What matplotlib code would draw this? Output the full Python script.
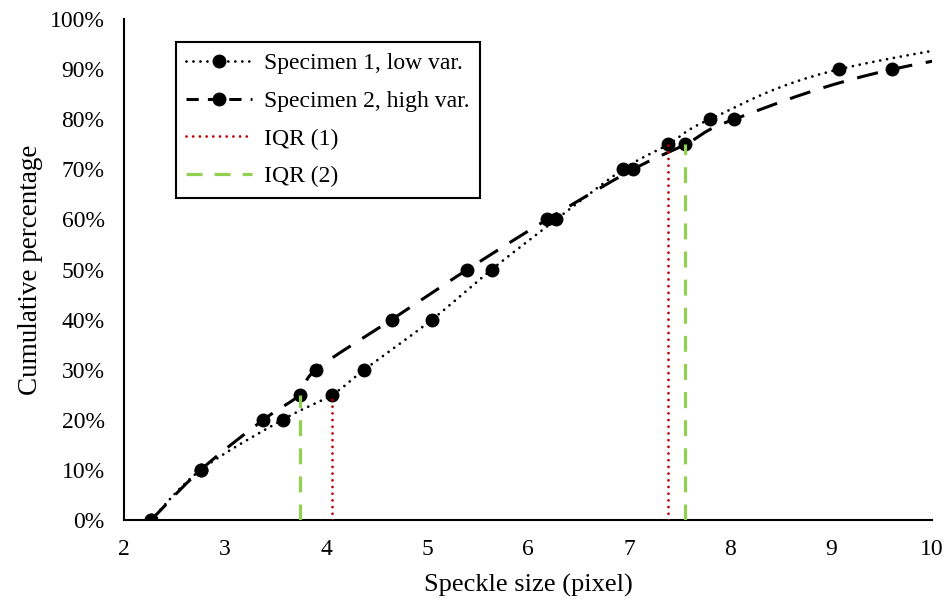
import numpy as np
import matplotlib
matplotlib.use("Agg")
from matplotlib import pyplot as plt
from matplotlib.ticker import PercentFormatter

# cumulative percentage levels
pct = [0, 10, 20, 25, 30, 40, 50, 60, 70, 75, 80, 90, 100]
# speckle size at each level (100% lies past the x limit)
spec1 = [2.27, 2.76, 3.57, 4.06, 4.38, 5.05, 5.64, 6.28, 6.94, 7.39, 7.80, 9.08, 11.9]
spec2 = [2.27, 2.76, 3.38, 3.74, 3.90, 4.65, 5.40, 6.19, 7.04, 7.56, 8.04, 9.61, 12.5]

# quartile positions
iqr1 = [4.06, 7.39]
iqr1_pct = [25, 75]
iqr2 = [3.74, 7.56]
iqr2_pct = [25, 75]

plt.rcParams['font.family'] = ['Liberation Serif', 'DejaVu Serif']


def smooth(x, y, n=30):
    # excel-like smoothed line (catmull-rom as bezier)
    p = np.column_stack([x, y]).astype(float)
    pts = [p[0]] + list(p) + [p[-1]]
    out = []
    for i in range(1, len(pts) - 2):
        p0, p1, p2, p3 = pts[i - 1], pts[i], pts[i + 1], pts[i + 2]
        c1 = p1 + (p2 - p0) / 6
        c2 = p2 - (p3 - p1) / 6
        t = np.linspace(0, 1, n)[:, None]
        seg = ((1 - t) ** 3) * p1 + 3 * ((1 - t) ** 2) * t * c1 + 3 * (1 - t) * t ** 2 * c2 + t ** 3 * p2
        out.append(seg)
    out = np.vstack(out)
    return out[:, 0], out[:, 1]


fig = plt.figure(figsize=(9.47, 6.01), dpi=100)
ax = fig.add_axes([0.131, 0.135, 0.853, 0.833])

sx, sy = smooth(spec1, pct)
ax.plot(sx, sy, color='black', lw=2.0, linestyle=(0, (0.01, 2.5)), dash_capstyle='round')
ax.plot(spec1, pct, 'o', color='black', ms=9, zorder=3)

sx, sy = smooth(spec2, pct)
ax.plot(sx, sy, color='black', lw=2.2, linestyle=(0, (7, 4.5)))
ax.plot(spec2, pct, 'o', color='black', ms=9, zorder=3)

for xv, yv in zip(iqr1, iqr1_pct):
    ax.plot([xv, xv], [0, yv], color='#C00000', lw=2, linestyle=(0, (0.01, 2.4)),
            dash_capstyle='round', zorder=4)
for xv, yv in zip(iqr2, iqr2_pct):
    ax.plot([xv, xv], [0, yv], color='#92D050', lw=2.3, linestyle=(0, (5, 3.8)), zorder=4)

# legend handles
h1, = ax.plot([], [], color='black', lw=2.0, linestyle=(0, (0.01, 2.5)), dash_capstyle='round',
              marker='o', ms=9)
h2, = ax.plot([], [], color='black', lw=2.2, linestyle=(0, (4, 3)), marker='o', ms=9)
h3, = ax.plot([], [], color='#C00000', lw=2, linestyle=(0, (0.01, 2.4)), dash_capstyle='round')
h4, = ax.plot([], [], color='#92D050', lw=2.3, linestyle=(0, (5, 3.8)))
leg = ax.legend([h1, h2, h3, h4],
                ['Specimen 1, low var.', 'Specimen 2, high var.', 'IQR (1)', 'IQR (2)'],
                loc='upper left', bbox_to_anchor=(0.064, 0.954), borderaxespad=0,
                fontsize=17, handlelength=2.8, handletextpad=0.5, labelspacing=0.68,
                fancybox=False, framealpha=1, edgecolor='black', borderpad=0.45)
leg.get_frame().set_linewidth(1.5)

ax.set_xlim(2, 10)
ax.set_ylim(0, 100)
ax.set_xticks(range(2, 11))
ax.set_yticks(range(0, 101, 10))
ax.yaxis.set_major_formatter(PercentFormatter(decimals=0))
ax.tick_params(length=0, labelsize=17, pad=14)
ax.tick_params(axis='y', pad=14)
for s in ['top', 'right']:
    ax.spines[s].set_visible(False)
for s in ['left', 'bottom']:
    ax.spines[s].set_linewidth(1.5)
ax.set_xlabel('Speckle size (pixel)', fontsize=19, labelpad=10)
ax.set_ylabel('Cumulative percentage', fontsize=19.5, labelpad=5)

fig.savefig('out.png', dpi=100)
